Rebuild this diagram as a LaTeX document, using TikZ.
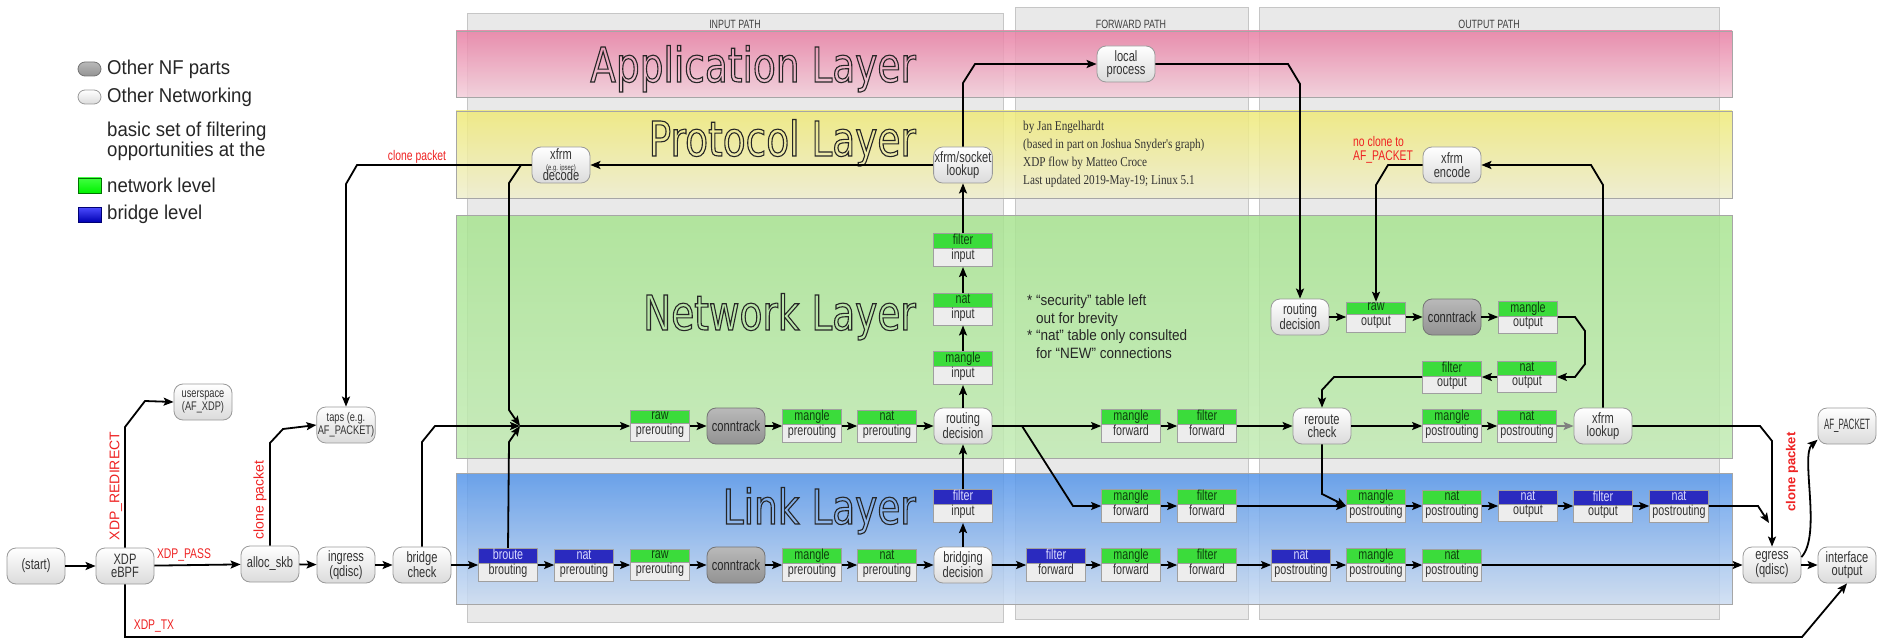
\documentclass[tikz,border=0pt]{standalone}
\usepackage{fontspec}
\usepackage{graphicx}
\usetikzlibrary{arrows.meta,shapes.multipart,positioning}
\setmainfont{Liberation Sans}
\newfontfamily\boxfont{Liberation Sans}[FakeStretch=0.74]
\newfontfamily\legfont{Liberation Sans}[FakeStretch=0.93]
\newfontfamily\notefont{Liberation Sans}[FakeStretch=0.9]
\newfontfamily\credfont{Liberation Serif}[FakeStretch=0.83]
\newfontfamily\layerfont{DejaVu Sans}[FakeStretch=0.78]

\definecolor{nfgreen}{HTML}{3BDC3B}
\definecolor{nfgreentext}{HTML}{0E400E}
\definecolor{nfblue}{HTML}{2A2ABF}
\definecolor{nfbody}{HTML}{EDEDED}
\definecolor{nfred}{HTML}{EE2222}
\definecolor{colgray}{HTML}{E9E9E9}
\definecolor{apptop}{HTML}{E87EA3}
\definecolor{appbot}{HTML}{F3CEDA}
\definecolor{prottop}{HTML}{EFEA77}
\definecolor{protbot}{HTML}{EFEECE}
\definecolor{nettop}{HTML}{A8E491}
\definecolor{netbot}{HTML}{C2EBB4}
\definecolor{linktop}{HTML}{5495EA}
\definecolor{linkbot}{HTML}{CCDCF1}

\newcommand{\gh}[1]{\textcolor{nfgreentext}{\rule[-3pt]{0pt}{11pt}#1}}
\newcommand{\bh}[1]{\textcolor{white!85!blue}{\rule[-3pt]{0pt}{11pt}#1}}
\newcommand{\bd}[1]{\rule[-6pt]{0pt}{15pt}#1}
\newcommand{\outlined}[1]{\special{pdf:literal direct 1 Tr 1.1 w}#1\special{pdf:literal direct 0 Tr}}

\tikzset{
  flow/.style={line width=1.8pt, -{Stealth[length=10pt,width=8pt,inset=2pt]}},
  nfround/.style={draw=gray!80, line width=0.8pt, rounded corners=9pt, top color=white, bottom color=gray!28,
    minimum width=58pt, minimum height=36pt, inner sep=1pt, align=center, text=black!80,
    font=\boxfont\fontsize{15}{13.5}\selectfont},
  nfsmall/.style={nfround, font=\boxfont\fontsize{12.5}{13}\selectfont},
  nfdark/.style={nfround, top color=gray!55, bottom color=gray!85, draw=gray!90!black, text=black!85},
  nftab/.style={rectangle split, rectangle split parts=2, rectangle split part fill={#1,nfbody},
    draw=gray!75, line width=0.7pt, minimum width=59pt, inner xsep=1pt, inner ysep=0.5pt,
    align=center, text=black!80, font=\boxfont\fontsize{14.5}{14}\selectfont},
  gtab/.style={nftab=nfgreen},
  btab/.style={nftab=nfblue},
  colbox/.style={draw=gray!45, line width=0.8pt, fill=colgray},
  band/.style={draw=gray!70, line width=0.8pt, fill opacity=0.85},
  colhead/.style={inner sep=0pt, text=black!75, font=\boxfont\fontsize{12}{12}\selectfont},
  layer/.style={anchor=base east, inner sep=0pt, text=black!85, font=\layerfont\fontsize{48}{48}\selectfont},
  redlab/.style={text=nfred, inner sep=1pt, font=\boxfont\fontsize{14}{14}\selectfont},
  redrot/.style={text=nfred, inner sep=1pt, rotate=90, font=\fontsize{14}{14}\selectfont},
  legtext/.style={anchor=west, inner sep=0pt, text=black!85, font=\legfont\fontsize{20}{16}\selectfont},
  legicon/.style={minimum width=23pt, minimum height=14pt, rounded corners=7pt, inner sep=0pt},
}

\begin{document}
\begin{tikzpicture}[x=1pt,y=-1pt]
\useasboundingbox (0,0) rectangle (1878,639);

% path columns
\draw[colbox] (467,13) rectangle (1003,622);
\draw[colbox] (1015,7) rectangle (1248,619);
\draw[colbox] (1259,7) rectangle (1719,619);
\node[colhead] (hdin) at (735,24) {INPUT PATH};
\node[colhead] (hdfwd) at (1131,24) {FORWARD PATH};
\node[colhead] (hdout) at (1489,24) {OUTPUT PATH};

% layers
\draw[band, top color=apptop, bottom color=appbot] (456,31) rectangle (1732,97);
\draw[band, top color=prottop, bottom color=protbot] (456,111) rectangle (1732,198);
\draw[band, top color=nettop, bottom color=netbot] (456,215) rectangle (1732,458);
\draw[band, top color=linktop, bottom color=linkbot] (456,473) rectangle (1732,604);
\node[layer] (lyapp) at (916,82) {\outlined{Application Layer}};
\node[layer] (lyproto) at (916,156) {\outlined{Protocol Layer}};
\node[layer] (lynet) at (916,330) {\outlined{Network Layer}};
\node[layer] (lylink) at (916,524) {\outlined{Link Layer}};

% legend
\node[nfdark, legicon] (lgnf) at (89.5,69) {};
\node[nfround, legicon] (lgnet) at (89.5,97) {};
\node[draw=green!45!black, line width=0.5pt, top color=green!75, bottom color=green!95!black,
  minimum width=23pt, minimum height=15pt, inner sep=0pt] (lggreen) at (89.5,185.5) {};
\node[draw=blue!45!black, line width=0.5pt, top color=blue!70!white, bottom color=blue!70!black,
  minimum width=23pt, minimum height=15pt, inner sep=0pt] (lgblue) at (89.5,214.5) {};
\node[legtext] (lgnftx) at (107,69) {Other NF parts};
\node[legtext] (lgnettx) at (107,97) {Other Networking};
\node[legtext, align=left] (lgbasic) at (107,141.5) {basic set of filtering\\opportunities at the};
\node[legtext] (lggreentx) at (107,185.5) {network level};
\node[legtext] (lgbluetx) at (107,214.5) {bridge level};

% notes
\node[anchor=base west, align=left, inner sep=0pt, text=black!80,
  font=\credfont\fontsize{13.5}{18.3}\selectfont] (credits) at (1023,185)
  {by Jan Engelhardt\\(based in part on Joshua Snyder's graph)\\XDP flow by Matteo Croce\\Last updated 2019-May-19; Linux 5.1};
\node[anchor=base west, align=left, inner sep=0pt, text=black!85,
  font=\notefont\fontsize{15}{17.5}\selectfont] (notes) at (1027,358)
  {* “security” table left\\\phantom{* }out for brevity\\* “nat” table only consulted\\\phantom{* }for “NEW” connections};

% other networking
\node[nfround] (start) at (36,566) {(start)};
\node[nfround] (xdp) at (125,566) {XDP\\eBPF};
\node[nfsmall] (userspace) at (203,402) {userspace\\(AF\_XDP)};
\node[nfround] (allocskb) at (270,564) {alloc\_skb};
\node[nfround] (ingress) at (346,565) {ingress\\(qdisc)};
\node[nfsmall] (taps) at (346,425) {taps (e.g.\\AF\_PACKET)};
\node[nfround] (bridgecheck) at (422,565) {bridge\\check};
\node[nfround] (decode) at (561,165) {xfrm\\[-3pt]{\fontsize{8}{8}\selectfont (e.g. ipsec)}\\[-3pt]decode};
\node[nfround] (sklookup) at (963,165) {xfrm/socket\\lookup};
\node[nfround] (localproc) at (1126,64) {local\\process};
\node[nfround] (routein) at (963,426) {routing\\decision};
\node[nfround] (bridgedec) at (963,565) {bridging\\decision};
\node[nfround] (routeout) at (1300,317) {routing\\decision};
\node[nfround] (reroute) at (1322,426) {reroute\\check};
\node[nfround] (xfrmenc) at (1452,165) {xfrm\\encode};
\node[nfround] (xfrmlook) at (1603,426) {xfrm\\lookup};
\node[nfround] (egress) at (1772,565) {egress\\(qdisc)};
\node[nfround] (ifout) at (1847,565) {interface\\output};
\node[nfround] (afpacket) at (1847,426) {\scalebox{0.72}[1]{AF\_PACKET}};
\node[nfdark] (ctnet) at (736,426) {conntrack};
\node[nfdark] (ctlink) at (736,565) {conntrack};
\node[nfdark] (ctout) at (1452,317) {conntrack};

% network level tables
\node[gtab] (nraw) at (660,426) {\gh{raw}\nodepart{two}\bd{prerouting}};
\node[gtab] (nmangle) at (812,426) {\gh{mangle}\nodepart{two}\bd{prerouting}};
\node[gtab] (nnat) at (887,426) {\gh{nat}\nodepart{two}\bd{prerouting}};
\node[gtab] (mangin) at (963,368) {\gh{mangle}\nodepart{two}\bd{input}};
\node[gtab] (natin) at (963,309) {\gh{nat}\nodepart{two}\bd{input}};
\node[gtab] (filtin) at (963,250) {\gh{filter}\nodepart{two}\bd{input}};
\node[gtab] (nmanglefwd) at (1131,426) {\gh{mangle}\nodepart{two}\bd{forward}};
\node[gtab] (nfilterfwd) at (1207,426) {\gh{filter}\nodepart{two}\bd{forward}};
\node[gtab] (rawout) at (1376,317) {\gh{raw}\nodepart{two}\bd{output}};
\node[gtab] (mangout) at (1528,317) {\gh{mangle}\nodepart{two}\bd{output}};
\node[gtab] (natout) at (1527,377) {\gh{nat}\nodepart{two}\bd{output}};
\node[gtab] (filtout) at (1452,377) {\gh{filter}\nodepart{two}\bd{output}};
\node[gtab] (nmanglepost) at (1452,426) {\gh{mangle}\nodepart{two}\bd{postrouting}};
\node[gtab] (nnatpost) at (1527,426) {\gh{nat}\nodepart{two}\bd{postrouting}};

% link level tables
\node[btab] (broute) at (508,565) {\bh{broute}\nodepart{two}\bd{brouting}};
\node[btab] (brnat) at (584,565) {\bh{nat}\nodepart{two}\bd{prerouting}};
\node[gtab] (lraw) at (660,565) {\gh{raw}\nodepart{two}\bd{prerouting}};
\node[gtab] (lmangle) at (812,565) {\gh{mangle}\nodepart{two}\bd{prerouting}};
\node[gtab] (lnat) at (887,565) {\gh{nat}\nodepart{two}\bd{prerouting}};
\node[btab] (brfilt) at (963,506) {\bh{filter}\nodepart{two}\bd{input}};
\node[btab] (brfwd) at (1056,565) {\bh{filter}\nodepart{two}\bd{forward}};
\node[gtab] (lmanglefwd) at (1131,565) {\gh{mangle}\nodepart{two}\bd{forward}};
\node[gtab] (lfilterfwd) at (1207,565) {\gh{filter}\nodepart{two}\bd{forward}};
\node[btab] (brpost) at (1301,565) {\bh{nat}\nodepart{two}\bd{postrouting}};
\node[gtab] (lmanglepost) at (1376,565) {\gh{mangle}\nodepart{two}\bd{postrouting}};
\node[gtab] (lnatpost) at (1452,565) {\gh{nat}\nodepart{two}\bd{postrouting}};
\node[gtab] (mfwd2) at (1131,506) {\gh{mangle}\nodepart{two}\bd{forward}};
\node[gtab] (ffwd2) at (1207,506) {\gh{filter}\nodepart{two}\bd{forward}};
\node[gtab] (mpost2) at (1376,506) {\gh{mangle}\nodepart{two}\bd{postrouting}};
\node[gtab] (npost2) at (1452,506) {\gh{nat}\nodepart{two}\bd{postrouting}};
\node[btab] (bnatout) at (1528,506) {\bh{nat}\nodepart{two}\bd{output}};
\node[btab] (bfiltout) at (1603,506) {\bh{filter}\nodepart{two}\bd{output}};
\node[btab] (bnatpost) at (1679,506) {\bh{nat}\nodepart{two}\bd{postrouting}};

\coordinate (jn) at (520,426);
\coordinate (fwdsplit) at (1022,426);
\coordinate (egtop) at (1769,523);

% labels
\node[redlab] (lbpass) at (184,555) {XDP\_PASS};
\node[redrot] (lbredir) at (116,486) {XDP\_REDIRECT};
\node[redlab] (lbtx) at (154,626) {XDP\_TX};
\node[redrot] (lbclone1) at (260,500) {clone packet};
\node[redlab] (lbclone2) at (417,157) {clone packet};
\node[redlab, anchor=west, align=left] (lbnoclone) at (1352,150) {no clone to\\AF\_PACKET};
\node[redrot, font=\bfseries\fontsize{13}{14}\selectfont] (lbclone3) at (1792,472) {clone packet};

% xdp and ingress
\draw[flow] (start) -- (xdp);
\draw[flow] (xdp) -- (allocskb);
\draw[flow] (xdp.north) -- (125,427) -- (145,401) -- (userspace.west);
\draw[flow] (xdp.south) -- (125,637) -- (1802,637) -- (ifout.south);
\draw[flow] (allocskb) -- (ingress);
\draw[flow] (ingress) -- (bridgecheck);
\draw[flow] (allocskb.north) -- (270,443) -- (283,429) -- (taps.west);
\draw[flow] (bridgecheck) -- (broute);
\draw[flow] (bridgecheck.north) -- (422,442) -- (435,426) -- (jn);
\draw[flow] (decode.west) -- (357,165) -- (346,184) -- (taps.north);
\draw[flow] (decode.west) -- (521,165) -- (509,183) -- (509,410) -- (jn);
\draw[flow] (broute.north) -- (509,442) -- (jn);

% input path
\draw[flow] (jn) -- (nraw);
\draw[flow] (nraw) -- (ctnet);
\draw[flow] (ctnet) -- (nmangle);
\draw[flow] (nmangle) -- (nnat);
\draw[flow] (nnat) -- (routein);
\draw[flow] (routein) -- (mangin);
\draw[flow] (mangin) -- (natin);
\draw[flow] (natin) -- (filtin);
\draw[flow] (filtin) -- (sklookup);
\draw[flow] (sklookup) -- (decode);
\draw[flow] (sklookup.north) -- (963,83) -- (975,64) -- (localproc.west);
\draw[flow] (broute) -- (brnat);
\draw[flow] (brnat) -- (lraw);
\draw[flow] (lraw) -- (ctlink);
\draw[flow] (ctlink) -- (lmangle);
\draw[flow] (lmangle) -- (lnat);
\draw[flow] (lnat) -- (bridgedec);
\draw[flow] (bridgedec) -- (brfilt);
\draw[flow] (brfilt) -- (routein);

% forward path
\draw[flow] (routein) -- (nmanglefwd);
\draw[flow] (fwdsplit) -- (1073,506) -- (mfwd2.west);
\draw[flow] (nmanglefwd) -- (nfilterfwd);
\draw[flow] (nfilterfwd) -- (reroute);
\draw[flow] (mfwd2) -- (ffwd2);
\draw[flow] (ffwd2) -- (mpost2);
\draw[flow] (bridgedec) -- (brfwd);
\draw[flow] (brfwd) -- (lmanglefwd);
\draw[flow] (lmanglefwd) -- (lfilterfwd);
\draw[flow] (lfilterfwd) -- (brpost);

% output path
\draw[flow] (localproc.east) -- (1288,64) -- (1300,84) -- (routeout.north);
\draw[flow] (routeout) -- (rawout);
\draw[flow] (rawout) -- (ctout);
\draw[flow] (ctout) -- (mangout);
\draw[flow] (mangout.east) -- (1575,317) -- (1585,331) -- (1585,364) -- (1575,377) -- (natout.east);
\draw[flow] (natout) -- (filtout);
\draw[flow] (filtout.west) -- (1334,377) -- (1322,390) -- (reroute.north);
\draw[flow] (reroute) -- (nmanglepost);
\draw[flow] (nmanglepost) -- (nnatpost);
\draw[flow, gray] (nnatpost) -- (xfrmlook);
\draw[flow] (xfrmlook.north) -- (1603,185) -- (1591,165) -- (xfrmenc.east);
\draw[flow] (xfrmenc.west) -- (1388,165) -- (1376,185) -- (rawout.north);
\draw[flow] (xfrmlook.east) -- (1760,426) -- (1772,441) -- (egress.north);
\draw[flow] (reroute.south) -- (1322,494) -- (mpost2.west);
\draw[flow] (mpost2) -- (npost2);
\draw[flow] (npost2) -- (bnatout);
\draw[flow] (bnatout) -- (bfiltout);
\draw[flow] (bfiltout) -- (bnatpost);
\draw[flow] (bnatpost.east) -- (1758,506) -- (egtop);
\draw[flow] (brpost) -- (lmanglepost);
\draw[flow] (lmanglepost) -- (lnatpost);
\draw[flow] (lnatpost) -- (egress);
\draw[flow] (egress) -- (ifout);
\draw[flow] (egress.15) .. controls (1822,535) and (1800,455) .. (afpacket.205);
\end{tikzpicture}
\end{document}
